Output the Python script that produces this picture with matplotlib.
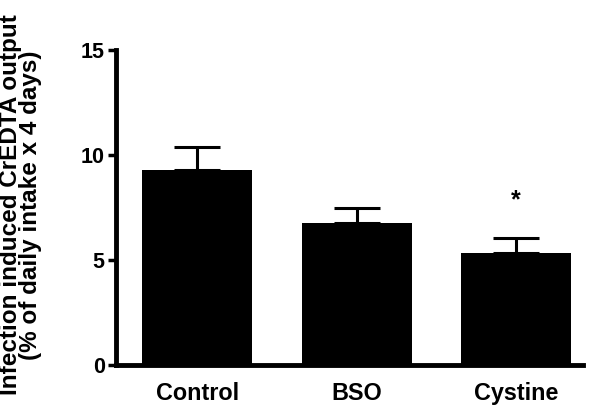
import matplotlib.pyplot as plt

groups = ["Control", "BSO", "Cystine"]
means = [9.3, 6.75, 5.35]
sem = [1.1, 0.75, 0.72]
star_y = 7.25

plt.rcParams['font.family'] = ['Liberation Sans', 'DejaVu Sans']
plt.rcParams['font.weight'] = 'bold'

fig = plt.figure(figsize=(6, 4.18), dpi=100)
ax = fig.add_axes([0.193, 0.127, 0.779, 0.753])

x = range(len(groups))
ax.bar(x, means, width=0.69, color="black", zorder=2)
ax.errorbar(x, means, yerr=[[0] * len(sem), sem], fmt="none", ecolor="black",
            elinewidth=2.2, capsize=16.5, capthick=2.2, zorder=1)
ax.text(2, star_y, "*", ha="center", va="bottom", fontsize=18, fontweight="bold")

ax.set_xlim(-0.51, 2.42)
ax.set_ylim(0, 15)
ax.set_yticks([0, 5, 10, 15])
ax.set_xticks(list(x))
ax.set_xticklabels(groups, fontsize=16.8, fontweight="bold")
ax.tick_params(axis="y", labelsize=15.5, width=2.5, length=6, direction="out", pad=2)
ax.tick_params(axis="x", length=0, pad=12)
for lab in ax.get_yticklabels():
    lab.set_fontweight("bold")

for s in ["top", "right"]:
    ax.spines[s].set_visible(False)
for s in ["left", "bottom"]:
    ax.spines[s].set_linewidth(3.5)

ax.set_ylabel("Infection induced CrEDTA output\n(% of daily intake x 4 days)",
              fontsize=17.5, fontweight="bold", linespacing=0.82)
ax.yaxis.set_label_coords(-0.158, 0.508)

fig.savefig("out.png", dpi=100)
